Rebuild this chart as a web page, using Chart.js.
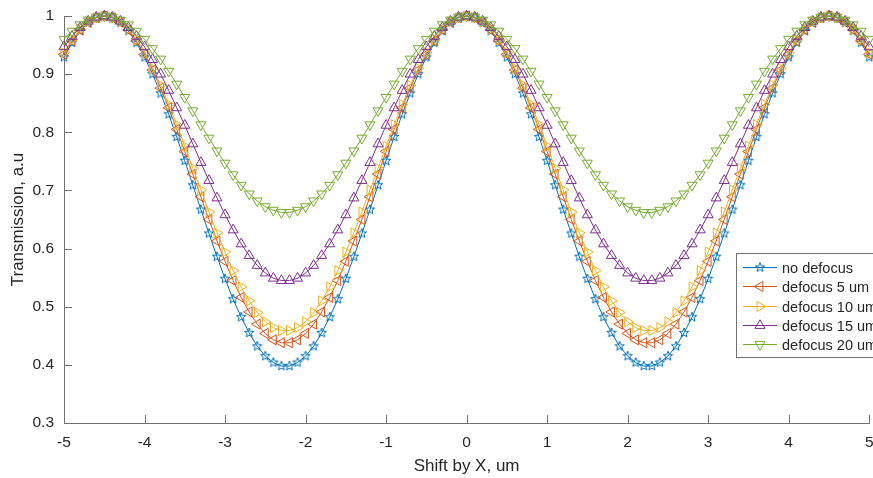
<!DOCTYPE html>
<html>
<head>
<meta charset="utf-8">
<script src="https://cdn.jsdelivr.net/npm/chart.js@4.4.1/dist/chart.umd.min.js"></script>
<style>
html, body { margin: 0; padding: 0; background: #fff; overflow: hidden; }
#wrap { width: 873px; height: 478px; overflow: hidden; }
</style>
</head>
<body>
<div id="wrap"><canvas id="chart" width="876" height="478"></canvas></div>
<script>
// --- DATA ---
const xValues = [-5,-4.9,-4.8,-4.7,-4.6,-4.5,-4.4,-4.3,-4.2,-4.1,-4,-3.9,-3.8,-3.7,-3.6,-3.5,-3.4,-3.3,-3.2,-3.1,
  -3,-2.9,-2.8,-2.7,-2.6,-2.5,-2.4,-2.3,-2.2,-2.1,-2,-1.9,-1.8,-1.7,-1.6,-1.5,-1.4,-1.3,-1.2,-1.1,
  -1,-0.9,-0.8,-0.7,-0.6,-0.5,-0.4,-0.3,-0.2,-0.1,0,0.1,0.2,0.3,0.4,0.5,0.6,0.7,0.8,0.9,
  1,1.1,1.2,1.3,1.4,1.5,1.6,1.7,1.8,1.9,2,2.1,2.2,2.3,2.4,2.5,2.6,2.7,2.8,2.9,
  3,3.1,3.2,3.3,3.4,3.5,3.6,3.7,3.8,3.9,4,4.1,4.2,4.3,4.4,4.5,4.6,4.7,4.8,4.9,5];

const noDefocus = [0.929,0.954,0.974,0.988,0.997,1.000,
  0.997,0.988,0.974,0.954,0.929,0.900,0.867,0.831,0.792,0.751,0.709,0.667,0.626,0.586,0.548,0.513,0.482,0.455,0.432,0.415,0.404,0.398,
  0.398,0.404,0.415,0.432,0.455,0.482,0.513,0.548,0.586,0.626,0.667,0.709,0.751,0.792,0.831,0.867,0.900,0.929,0.954,0.974,0.988,0.997,
  1.000,
  0.997,0.988,0.974,0.954,0.929,0.900,0.867,0.831,0.792,0.751,0.709,0.667,0.626,0.586,0.548,0.513,0.482,0.455,0.432,0.415,0.404,0.398,
  0.398,0.404,0.415,0.432,0.455,0.482,0.513,0.548,0.586,0.626,0.667,0.709,0.751,0.792,0.831,0.867,0.900,0.929,0.954,0.974,0.988,0.997,
  1.000,0.997,0.988,0.974,0.954,0.929];

const defocus5 = [0.934,0.957,0.976,0.989,0.997,1.000,
  0.997,0.989,0.976,0.957,0.934,0.907,0.876,0.842,0.805,0.767,0.728,0.689,0.650,0.613,0.578,0.545,0.516,0.491,0.470,0.454,0.443,0.438,
  0.438,0.443,0.454,0.470,0.491,0.516,0.545,0.578,0.613,0.650,0.689,0.728,0.767,0.805,0.842,0.876,0.907,0.934,0.957,0.976,0.989,0.997,
  1.000,
  0.997,0.989,0.976,0.957,0.934,0.907,0.876,0.842,0.805,0.767,0.728,0.689,0.650,0.613,0.578,0.545,0.516,0.491,0.470,0.454,0.443,0.438,
  0.438,0.443,0.454,0.470,0.491,0.516,0.545,0.578,0.613,0.650,0.689,0.728,0.767,0.805,0.842,0.876,0.907,0.934,0.957,0.976,0.989,0.997,
  1.000,0.997,0.989,0.976,0.957,0.934];

const defocus10 = [0.937,0.959,0.977,0.990,0.997,1.000,
  0.997,0.990,0.977,0.959,0.937,0.910,0.881,0.848,0.813,0.776,0.738,0.701,0.663,0.627,0.594,0.562,0.534,0.510,0.490,0.474,0.464,0.459,
  0.459,0.464,0.474,0.490,0.510,0.534,0.562,0.594,0.627,0.663,0.701,0.738,0.776,0.813,0.848,0.881,0.910,0.937,0.959,0.977,0.990,0.997,
  1.000,
  0.997,0.990,0.977,0.959,0.937,0.910,0.881,0.848,0.813,0.776,0.738,0.701,0.663,0.627,0.594,0.562,0.534,0.510,0.490,0.474,0.464,0.459,
  0.459,0.464,0.474,0.490,0.510,0.534,0.562,0.594,0.627,0.663,0.701,0.738,0.776,0.813,0.848,0.881,0.910,0.937,0.959,0.977,0.990,0.997,
  1.000,0.997,0.990,0.977,0.959,0.937];

const defocus15 = [0.947,0.965,0.980,0.991,0.998,1.000,
  0.998,0.991,0.980,0.965,0.947,0.925,0.900,0.872,0.842,0.812,0.780,0.748,0.717,0.687,0.658,0.632,0.608,0.588,0.571,0.558,0.549,0.545,
  0.545,0.549,0.558,0.571,0.588,0.608,0.632,0.658,0.687,0.717,0.748,0.780,0.812,0.842,0.872,0.900,0.925,0.947,0.965,0.980,0.991,0.998,
  1.000,
  0.998,0.991,0.980,0.965,0.947,0.925,0.900,0.872,0.842,0.812,0.780,0.748,0.717,0.687,0.658,0.632,0.608,0.588,0.571,0.558,0.549,0.545,
  0.545,0.549,0.558,0.571,0.588,0.608,0.632,0.658,0.687,0.717,0.748,0.780,0.812,0.842,0.872,0.900,0.925,0.947,0.965,0.980,0.991,0.998,
  1.000,0.998,0.991,0.980,0.965,0.947];

const defocus20 = [0.960,0.974,0.985,0.993,0.998,1.000,
  0.998,0.993,0.985,0.974,0.960,0.944,0.926,0.905,0.883,0.860,0.837,0.813,0.790,0.768,0.747,0.727,0.709,0.694,0.682,0.672,0.666,0.662,
  0.662,0.666,0.672,0.682,0.694,0.709,0.727,0.747,0.768,0.790,0.813,0.837,0.860,0.883,0.905,0.926,0.944,0.960,0.974,0.985,0.993,0.998,
  1.000,
  0.998,0.993,0.985,0.974,0.960,0.944,0.926,0.905,0.883,0.860,0.837,0.813,0.790,0.768,0.747,0.727,0.709,0.694,0.682,0.672,0.666,0.662,
  0.662,0.666,0.672,0.682,0.694,0.709,0.727,0.747,0.768,0.790,0.813,0.837,0.860,0.883,0.905,0.926,0.944,0.960,0.974,0.985,0.993,0.998,
  1.000,0.998,0.993,0.985,0.974,0.960];

const seriesNames = ['no defocus', 'defocus 5 um', 'defocus 10 um', 'defocus 15 um', 'defocus 20 um'];
const xTicks = [-5, -4, -3, -2, -1, 0, 1, 2, 3, 4, 5];
const yTicks = [0.3, 0.4, 0.5, 0.6, 0.7, 0.8, 0.9, 1];

// --- STYLE ---
const FONT = '"Liberation Sans", Arial, Helvetica, sans-serif';
const textColor = '#262626';
const axisColor = '#707070';
const colors = ['#0072BD', '#D95319', '#EDB120', '#7E2F8E', '#77AC30'];
// marker: 'star' = pentagram image, otherwise triangle with rotation
const markers = [
  { style: 'star', rot: 0 },
  { style: 'triangle', rot: -90 },
  { style: 'triangle', rot: 90 },
  { style: 'triangle', rot: 0 },
  { style: 'triangle', rot: 180 }
];

function makeStar(color) {
  const c = document.createElement('canvas');
  c.width = 12; c.height = 12;
  const g = c.getContext('2d');
  g.strokeStyle = color;
  g.lineWidth = 1;
  g.beginPath();
  for (let k = 0; k < 10; k++) {
    const r = k % 2 === 0 ? 5 : 2.1;
    const a = -Math.PI / 2 + k * Math.PI / 5;
    const px = 6 + r * Math.cos(a), py = 6 + r * Math.sin(a);
    k === 0 ? g.moveTo(px, py) : g.lineTo(px, py);
  }
  g.closePath();
  g.stroke();
  return c;
}
const starImg = makeStar(colors[0]);

function drawTri(ctx, x, y, r, rotDeg) {
  const rot = rotDeg * Math.PI / 180;
  ctx.beginPath();
  for (let k = 0; k < 3; k++) {
    const a = rot + k * 2 * Math.PI / 3;
    const px = x + Math.sin(a) * r, py = y - Math.cos(a) * r;
    k === 0 ? ctx.moveTo(px, py) : ctx.lineTo(px, py);
  }
  ctx.closePath();
  ctx.stroke();
}

// --- PLUGINS ---
const inwardTicks = {
  id: 'inwardTicks',
  afterDraw(chart) {
    const { ctx, chartArea: a, scales: { x, y } } = chart;
    ctx.save();
    ctx.strokeStyle = axisColor;
    ctx.lineWidth = 1;
    ctx.beginPath();
    xTicks.forEach(v => {
      const px = Math.round(x.getPixelForValue(v)) + 0.5;
      ctx.moveTo(px, a.bottom);
      ctx.lineTo(px, a.bottom - 8);
    });
    yTicks.forEach(v => {
      const py = Math.round(y.getPixelForValue(v)) + 0.5;
      ctx.moveTo(a.left, py);
      ctx.lineTo(a.left + 8, py);
    });
    ctx.stroke();
    ctx.restore();
  }
};

const boxLegend = {
  id: 'boxLegend',
  afterDraw(chart) {
    const ctx = chart.ctx;
    ctx.save();
    ctx.fillStyle = '#fff';
    ctx.fillRect(736, 253, 160, 105);
    ctx.strokeStyle = axisColor;
    ctx.lineWidth = 1;
    ctx.strokeRect(736.5, 253.5, 160, 104);
    ctx.font = '14.5px ' + FONT;
    ctx.textBaseline = 'middle';
    chart.data.datasets.forEach((ds, i) => {
      const y = Math.round(267 + i * 19.3) + 0.5;
      ctx.strokeStyle = ds.borderColor;
      ctx.beginPath();
      ctx.moveTo(743, y);
      ctx.lineTo(777, y);
      ctx.stroke();
      if (markers[i].style === 'star') {
        ctx.drawImage(starImg, 760 - 6, y - 6);
      } else {
        drawTri(ctx, 760, y, 5.8, markers[i].rot);
      }
      ctx.fillStyle = textColor;
      ctx.fillText(ds.label, 782, y + 1);
    });
    ctx.restore();
  }
};

// --- CHART ---
const allSeries = [noDefocus, defocus5, defocus10, defocus15, defocus20];

const datasets = allSeries.map((vals, i) => ({
  label: seriesNames[i],
  data: xValues.map((x, j) => ({ x: x, y: vals[j] })),
  borderColor: colors[i],
  backgroundColor: 'rgba(0,0,0,0)',
  borderWidth: 1,
  pointStyle: markers[i].style === 'star' ? starImg : 'triangle',
  pointRotation: markers[i].rot,
  pointRadius: 5.8,
  pointBorderWidth: 1,
  pointBorderColor: colors[i],
  pointBackgroundColor: 'rgba(0,0,0,0)',
  tension: 0,
  clip: false,
  order: 4 - i
}));

new Chart(document.getElementById('chart'), {
  type: 'line',
  data: { datasets: datasets },
  options: {
    responsive: false,
    animation: false,
    devicePixelRatio: 1,
    layout: { padding: { top: 16, right: 0, left: 0, bottom: 0 } },
    plugins: { legend: { display: false }, tooltip: { enabled: false } },
    scales: {
      x: {
        type: 'linear',
        min: -5, max: 5,
        afterBuildTicks: s => { s.ticks = xTicks.map(v => ({ value: v })); },
        afterFit: s => { s.height = 55; s.paddingLeft = 0; s.paddingRight = 0; },
        grid: { display: false },
        border: { display: true, color: axisColor, width: 1 },
        ticks: {
          autoSkip: false, maxRotation: 0, padding: 2,
          color: textColor, font: { family: FONT, size: 15.5 },
          callback: v => String(v)
        },
        title: {
          display: true, text: 'Shift by X, um', color: textColor,
          font: { family: FONT, size: 17 }, padding: { top: 0, bottom: 1 }
        }
      },
      y: {
        type: 'linear',
        min: 0.3, max: 1,
        afterBuildTicks: s => { s.ticks = yTicks.map(v => ({ value: v })); },
        afterFit: s => { s.width = 64; s.paddingTop = 0; s.paddingBottom = 0; },
        grid: { display: false },
        border: { display: true, color: axisColor, width: 1 },
        ticks: {
          autoSkip: false, padding: 2,
          color: textColor, font: { family: FONT, size: 15.5 },
          callback: v => String(v)
        },
        title: {
          display: true, text: 'Transmission, a.u', color: textColor,
          font: { family: FONT, size: 17 }, padding: { top: 8, bottom: 0 }
        }
      }
    }
  },
  plugins: [inwardTicks, boxLegend]
});
</script>
</body>
</html>
